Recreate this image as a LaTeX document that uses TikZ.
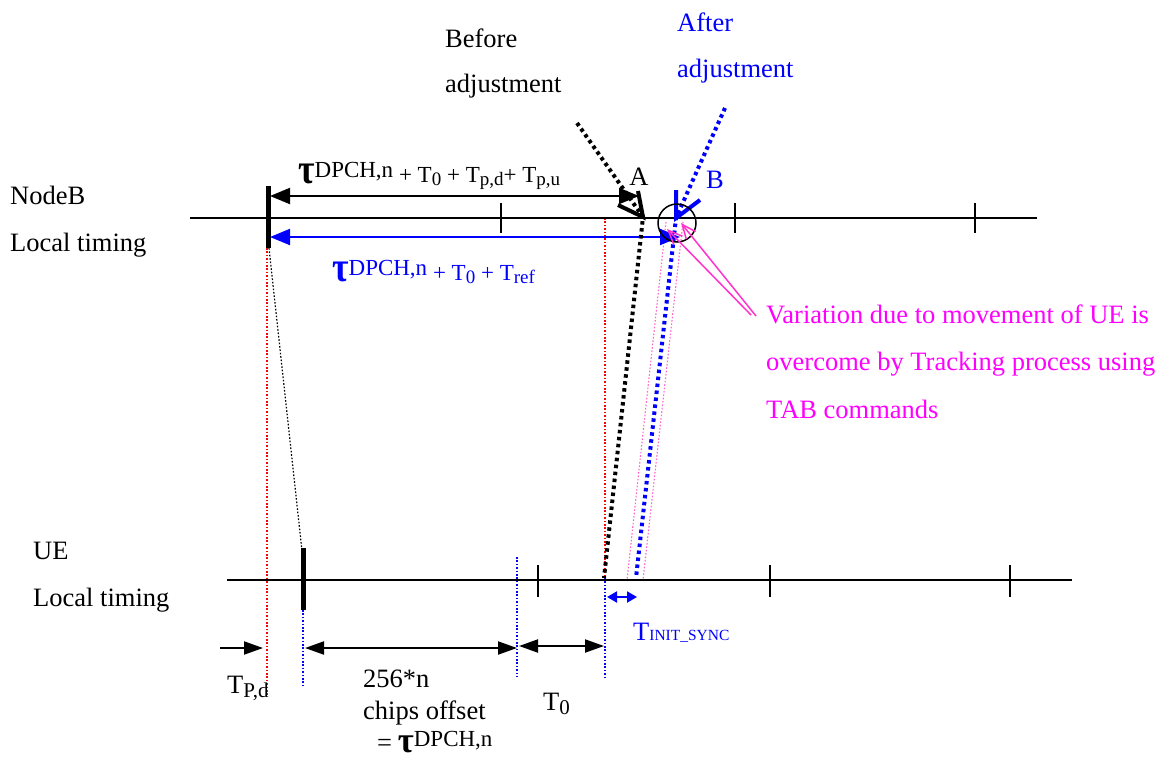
\documentclass[tikz,border=0pt]{standalone}
\usepackage{fontspec}
\setmainfont{Liberation Serif}
\usetikzlibrary{arrows.meta}
\definecolor{pinkarrow}{RGB}{255,51,204}
\definecolor{pinkdot}{RGB}{255,102,204}
\definecolor{magtext}{RGB}{255,0,255}
\definecolor{pureblue}{RGB}{0,0,255}
\definecolor{purered}{RGB}{255,0,0}
\newcommand{\txtsize}{\fontsize{26.5}{30}\selectfont}
\newcommand{\lblsize}{\fontsize{23}{27}\selectfont}
\newcommand{\Ssub}[1]{\raisebox{-3.5pt}{\fontsize{19}{21}\selectfont #1}}
\newcommand{\Tsub}[1]{\raisebox{-4pt}{\fontsize{21}{23}\selectfont #1}}
\newcommand{\Btau}{\raisebox{-1pt}{\scalebox{1.05}[1.25]{\fontsize{34}{34}\selectfont\bfseries τ}}}
\newcommand{\Btaus}{\raisebox{-1pt}{\scalebox{1.05}[1.1]{\fontsize{33}{33}\selectfont\bfseries τ}}}
\newcommand{\Dsup}{\raisebox{5pt}{DPCH,n}}
\begin{document}
\begin{tikzpicture}[x=1pt,y=-1pt,
  axis/.style={line width=2pt},
  tickmark/.style={line width=1.8pt},
  thickmark/.style={line width=5pt},
  dimarrow/.style={line width=2pt,{Triangle[length=20pt,width=16pt]}-{Triangle[length=20pt,width=16pt]}},
  dimarrowsm/.style={line width=2pt,{Triangle[length=19pt,width=13pt]}-{Triangle[length=19pt,width=13pt]}},
  bigdot/.style={line width=4pt,dash pattern=on 3.5pt off 3.5pt},
  thindot/.style={line width=1.4pt,dash pattern=on 1.6pt off 1.8pt},
  vhead/.style={line width=4pt},
  txt/.style={font=\txtsize,inner sep=0pt},
  lbl/.style={font=\lblsize,inner sep=0pt}]
\useasboundingbox (0,0) rectangle (1173,761);
\fill[white] (0,0) rectangle (1173,761);

% ---------- coordinates ----------
\coordinate (nbL) at (190,218); \coordinate (nbR) at (1037,218);
\coordinate (ueL) at (227,580); \coordinate (ueR) at (1072,580);
\coordinate (t1a) at (501,203); \coordinate (t1b) at (501,233);
\coordinate (t2a) at (735,203); \coordinate (t2b) at (735,233);
\coordinate (t3a) at (975,203); \coordinate (t3b) at (975,233);
\coordinate (u1a) at (538,565); \coordinate (u1b) at (538,597);
\coordinate (u2a) at (770,565); \coordinate (u2b) at (770,597);
\coordinate (u3a) at (1010,565); \coordinate (u3b) at (1010,597);
\coordinate (nbmA) at (268,186); \coordinate (nbmB) at (268,248);
\coordinate (uemA) at (303,548); \coordinate (uemB) at (303,610);
\coordinate (blkL) at (270,196); \coordinate (blkR) at (639,196);
\coordinate (bluL) at (270,237); \coordinate (bluR) at (680,237);
\coordinate (befS) at (577,123); \coordinate (ptA) at (643,217); \coordinate (befE) at (604,578);
\coordinate (aftS) at (725,108); \coordinate (ptB) at (676,218); \coordinate (aftE) at (636,578);
\coordinate (vA1) at (638,191); \coordinate (vA2) at (618,205);
\coordinate (vB1) at (676,190); \coordinate (vB2) at (700,200);
\coordinate (circ) at (677,223);
\coordinate (rd1a) at (605,218); \coordinate (rd1b) at (605,578); \coordinate (rd1c) at (605,678);
\coordinate (rd2a) at (267,248); \coordinate (rd2b) at (267,695);
\coordinate (bd1a) at (303,610); \coordinate (bd1b) at (303,688);
\coordinate (bd2a) at (517,557); \coordinate (bd2b) at (517,677);
\coordinate (kdA) at (269,248); \coordinate (kdB) at (303,560);
\coordinate (pk1a) at (666,222); \coordinate (pk1b) at (627,580);
\coordinate (pk2a) at (683,222); \coordinate (pk2b) at (643,580);
\coordinate (pa0) at (751,315); \coordinate (pa0b) at (756,316);
\coordinate (pa1) at (667,229); \coordinate (pa2) at (681,223);
\coordinate (tpdS) at (220,648); \coordinate (tpdE) at (263,648);
\coordinate (offL) at (305,648); \coordinate (offR) at (517,648);
\coordinate (t0L) at (519,646); \coordinate (t0R) at (604,646);
\coordinate (tiL) at (607,597); \coordinate (tiR) at (637,597);

% ---------- thin dotted guides ----------
\draw[thindot,purered] (rd1a) -- (rd1b);
\draw[thindot,pureblue] (rd1b) -- (rd1c);
\draw[thindot,purered] (rd2a) -- (rd2b);
\draw[thindot,pureblue] (bd1a) -- (bd1b);
\draw[thindot,pureblue] (bd2a) -- (bd2b);
\draw[thindot,black,line width=1.2pt] (kdA) -- (kdB);
\draw[thindot,pinkdot,line width=1.1pt] (pk1a) -- (pk1b);
\draw[thindot,pinkdot,line width=1.1pt] (pk2a) -- (pk2b);

% ---------- time axes ----------
\draw[axis] (nbL) -- (nbR);
\draw[axis] (ueL) -- (ueR);
\foreach \a/\b in {t1a/t1b,t2a/t2b,t3a/t3b,u1a/u1b,u2a/u2b,u3a/u3b}
  \draw[tickmark] (\a) -- (\b);
\draw[thickmark] (nbmA) -- (nbmB);
\draw[thickmark] (uemA) -- (uemB);

% ---------- dimension arrows ----------
\draw[dimarrow] (blkL) -- (blkR);
\draw[dimarrow,pureblue] (bluL) -- (bluR);
\draw[line width=2pt,-{Triangle[length=19pt,width=13pt]}] (tpdS) -- (tpdE);
\draw[dimarrowsm] (offL) -- (offR);
\draw[dimarrowsm] (t0L) -- (t0R);
\draw[line width=2pt,pureblue,{Triangle[length=10pt,width=11pt]}-{Triangle[length=10pt,width=11pt]}] (tiL) -- (tiR);

% ---------- adjustment lines ----------
\draw[bigdot,black] (befS) -- (ptA) -- (befE);
\draw[bigdot,pureblue] (aftS) -- (ptB) -- (aftE);
\draw[vhead,black] (vA1) -- (ptA) -- (vA2);
\draw[vhead,pureblue] (vB1) -- (ptB) -- (vB2);
\draw[line width=1.5pt] (circ) circle[radius=19pt];

% ---------- pink arrows ----------
\draw[pinkarrow,line width=1.5pt,-{Straight Barb[length=14pt,width=12pt,line width=1.5pt]}] (pa0) -- (pa1);
\draw[pinkarrow,line width=1.5pt,-{Straight Barb[length=14pt,width=12pt,line width=1.5pt]}] (pa0b) -- (pa2);

% ---------- texts ----------
\node[txt,anchor=base west] (nodeb) at (10,204) {NodeB};
\node[txt,anchor=base west] (nblt) at (10,251) {Local timing};
\node[txt,anchor=base west] (ue) at (33,559) {UE};
\node[txt,anchor=base west] (uelt) at (33,606) {Local timing};
\node[txt,anchor=base west] (bef1) at (445,47) {Before};
\node[txt,anchor=base west] (bef2) at (445,92) {adjustment};
\node[txt,anchor=base west,text=pureblue] (aft1) at (677,31) {After};
\node[txt,anchor=base west,text=pureblue] (aft2) at (677,77) {adjustment};
\node[txt,anchor=base] (labA) at (639,185) {A};
\node[txt,anchor=base,text=pureblue] (labB) at (715,188) {B};
\node[lbl,anchor=base west] (blklab) at (298,182) {\Btau\Dsup{} + T\Ssub{0} + T\Ssub{p,d}+ T\Ssub{p,u}};
\node[lbl,anchor=base west,text=pureblue] (blulab) at (332,280) {\Btau\Dsup{} + T\Ssub{0} + T\Ssub{ref}};
\node[txt,anchor=base west,text=magtext] (v1) at (766,323) {Variation due to movement of UE is};
\node[txt,anchor=base west,text=magtext] (v2) at (766,370) {overcome by Tracking process using};
\node[txt,anchor=base west,text=magtext] (v3) at (766,418) {TAB commands};
\node[txt,anchor=base west] (tpd) at (227,693) {T\Tsub{P,d}};
\node[txt,anchor=base west] (off1) at (363,687) {256*n};
\node[txt,anchor=base west] (off2) at (363,719) {chips offset};
\node[lbl,anchor=base west] (off3) at (377,751) {{\txtsize =} \Btaus\Dsup};
\node[txt,anchor=base west] (t0) at (543,710) {T\Tsub{0}};
\node[txt,anchor=base west,text=pureblue] (tinit) at (633,640) {T{\fontsize{15.5}{17}\selectfont INIT\_SYNC}};
\end{tikzpicture}
\end{document}
